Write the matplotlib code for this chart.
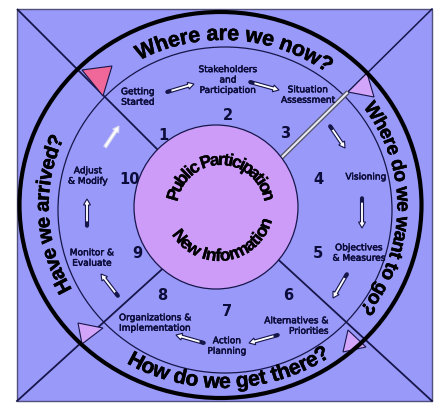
import numpy as np
import matplotlib
matplotlib.use("Agg")
import matplotlib.pyplot as plt
import matplotlib.patheffects as pe
from matplotlib.patches import Rectangle, Ellipse, Circle, Polygon, FancyArrow
from matplotlib.font_manager import FontProperties
from matplotlib.textpath import TextToPath

DPI = 100
W, H = 435, 405

# ---- content ----
ring_questions = ["Where are we now?", "Where do we want to go?", "How do we get there?", "Have we arrived?"]
ring_angles = [86, -1, 272, 183]          # centre angle of each question (deg)
ring_outward = [True, True, False, True]
ring_sizes = [15.5, 13.8, 15.2, 14.6]
core_texts = ["Public Participation", "New Information"]

step_numbers = ["1", "2", "3", "4", "5", "6", "7", "8", "9", "10"]
number_xy = [(163, 135), (228, 115), (285, 133), (318, 180), (318, 253),
             (288, 295), (227, 312), (162, 295), (137, 253), (130, 180)]
step_labels = ["Getting\nStarted", "Stakeholders\nand\nParticipation", "Situation\nAssessment",
               "Visioning", "Objectives\n& Measures", "Alternatives &\nPriorities",
               "Action\nPlanning", "Organizations &\nImplementation", "Monitor &\nEvaluate",
               "Adjust\n& Modify"]
label_xy = [(138, 97), (228, 80), (308, 95), (366, 177), (359, 253),
            (329, 326), (227, 346), (119, 323), (92, 258), (88, 176)]
label_ha = ["center", "center", "center", "center", "center",
            "right", "center", "left", "center", "center"]

arrow_tails = [(167, 92), (250, 82), (330, 126), (362, 198), (347, 274),
               (278, 335), (204, 343), (118, 296), (87, 226), (105, 147)]
arrow_heads = [(194, 84), (279, 90), (345, 148), (362, 228), (333, 298),
               (249, 343), (176, 335), (101, 274), (87, 199), (119, 126)]

# ---- colours ----
BG = "#9999fa"
PINK = "#cc9cf8"
FLAG_RED = "#f0689a"
FLAG_LILAC = "#d2a4fa"
NAVY = "#16164a"
INK = "#0c0c3a"

fig = plt.figure(figsize=(W / DPI, H / DPI), dpi=DPI)
fig.patch.set_facecolor("white")
ax = fig.add_axes([0, 0, 1, 1])
ax.set_xlim(0, W)
ax.set_ylim(H, 0)
ax.axis("off")

# frame
ax.add_patch(Rectangle((17, 9), 415, 392, facecolor=BG, edgecolor="#50507a", lw=1.0, zorder=0))

# middle thin ring
ax.add_patch(Ellipse((225, 210), 334, 326, facecolor="none", edgecolor=NAVY, lw=0.9, zorder=1))

# diagonals
ax.plot([17, 180], [9, 172], color=NAVY, lw=1.3, zorder=2, solid_capstyle="butt")
ax.plot([17, 170], [401, 262], color=NAVY, lw=1.3, zorder=2)
ax.plot([432, 270], [401, 252], color=NAVY, lw=1.3, zorder=2)
ax.plot([432, 348], [9, 92], color=NAVY, lw=1.1, zorder=2)
ax.plot([348, 280], [92, 159], color="#55556a", lw=3.4, zorder=2, solid_capstyle="butt")
ax.plot([348, 280], [92, 159], color="#e8e8f2", lw=1.5, zorder=2, solid_capstyle="butt")

# flags
flags = [([(82, 70), (112, 66), (103, 96)], FLAG_RED),
         ([(348, 92), (367, 73), (374, 97)], FLAG_LILAC),
         ([(78, 323), (103, 328), (82, 344)], FLAG_LILAC),
         ([(348, 330), (366, 347), (343, 352)], FLAG_LILAC)]
for pts, c in flags:
    ax.add_patch(Polygon(pts, closed=True, facecolor=c, edgecolor=NAVY, lw=0.8, zorder=3))

# thick outer ring
ax.add_patch(Ellipse((220.5, 205), 402, 386, facecolor="none", edgecolor="black", lw=3.0, zorder=4))

# core circle
ax.add_patch(Circle((216, 207), 82, facecolor=PINK, edgecolor=NAVY, lw=0.9, zorder=5))

# ---- curved text ----
ttp = TextToPath()


def width_px(s, fp):
    if s == "":
        return 0.0
    stripped = s.rstrip(" ")
    n_sp = len(s) - len(stripped)
    w = 0.0
    if stripped:
        w = ttp.get_text_width_height_descent(stripped, fp, ismath=False)[0]
    if n_sp:
        sp = (ttp.get_text_width_height_descent("a a", fp, ismath=False)[0]
              - ttp.get_text_width_height_descent("aa", fp, ismath=False)[0])
        w += n_sp * sp
    return w * DPI / 72.0


def curved_text(s, cx, cy, R, center_deg, size, outward=True, sx=1.0, track=1.0,
                family="Liberation Sans", weight="bold", color="black", z=7, stroke=0.0):
    fp = FontProperties(family=family, weight=weight, size=size)
    total = width_px(s, fp) * track
    effects = [pe.withStroke(linewidth=stroke, foreground=color)] if stroke else None
    for i, ch in enumerate(s):
        if ch == " ":
            continue
        o = (width_px(s[:i], fp) + width_px(s[:i + 1], fp)) / 2 * track - total / 2
        d = np.degrees(o / R)
        th = center_deg - d if outward else center_deg + d
        t = np.radians(th)
        x = cx + sx * R * np.cos(t)
        y = cy - R * np.sin(t)
        rot = th - 90 if outward else th + 90
        ax.text(x, y, ch, rotation=rot, rotation_mode="anchor", ha="center", va="baseline",
                fontproperties=fp, color=color, zorder=z, path_effects=effects)


for q, a, o, sz in zip(ring_questions, ring_angles, ring_outward, ring_sizes):
    R = 166 if o else 182
    curved_text(q, 223, 206, R, a, sz, outward=o, sx=1.05, track=0.94, stroke=0.35)

curved_text(core_texts[0], 221, 209, 44, 90, 12.5, outward=True, track=0.75, stroke=0.2)
curved_text(core_texts[1], 219, 206, 55, 278, 12.5, outward=False, track=0.94, stroke=0.2)

# ---- step numbers and labels ----
for n, (x, y) in zip(step_numbers, number_xy):
    ax.text(x, y, n, ha="center", va="center", fontsize=10.5, family="DejaVu Sans",
            weight="bold", color=INK, zorder=7)
for lab, (x, y), ha in zip(step_labels, label_xy, label_ha):
    ax.text(x, y, lab, ha=ha, va="center", fontsize=6.5, family="DejaVu Sans",
            color=INK, linespacing=1.2, multialignment=ha, zorder=7,
            path_effects=[pe.withStroke(linewidth=0.35, foreground=INK)])

# ---- arrows ----
for i, ((x0, y0), (x1, y1)) in enumerate(zip(arrow_tails, arrow_heads)):
    faded = i == len(arrow_tails) - 1
    ec = "#d8d8ee" if faded else NAVY
    ax.add_patch(FancyArrow(x0, y0, x1 - x0, y1 - y0, width=3.0, head_width=7.0,
                            head_length=6.0, length_includes_head=True,
                            facecolor="white", edgecolor=ec, lw=0.8, zorder=6))
    if not faded:
        L = np.hypot(x1 - x0, y1 - y0)
        ux, uy = (x1 - x0) / L, (y1 - y0) / L
        ax.plot([x0, x0 + 3 * ux], [y0, y0 + 3 * uy], color=NAVY, lw=2.6,
                solid_capstyle="round", zorder=6.5)

fig.savefig("out.png", dpi=DPI, facecolor="white")
